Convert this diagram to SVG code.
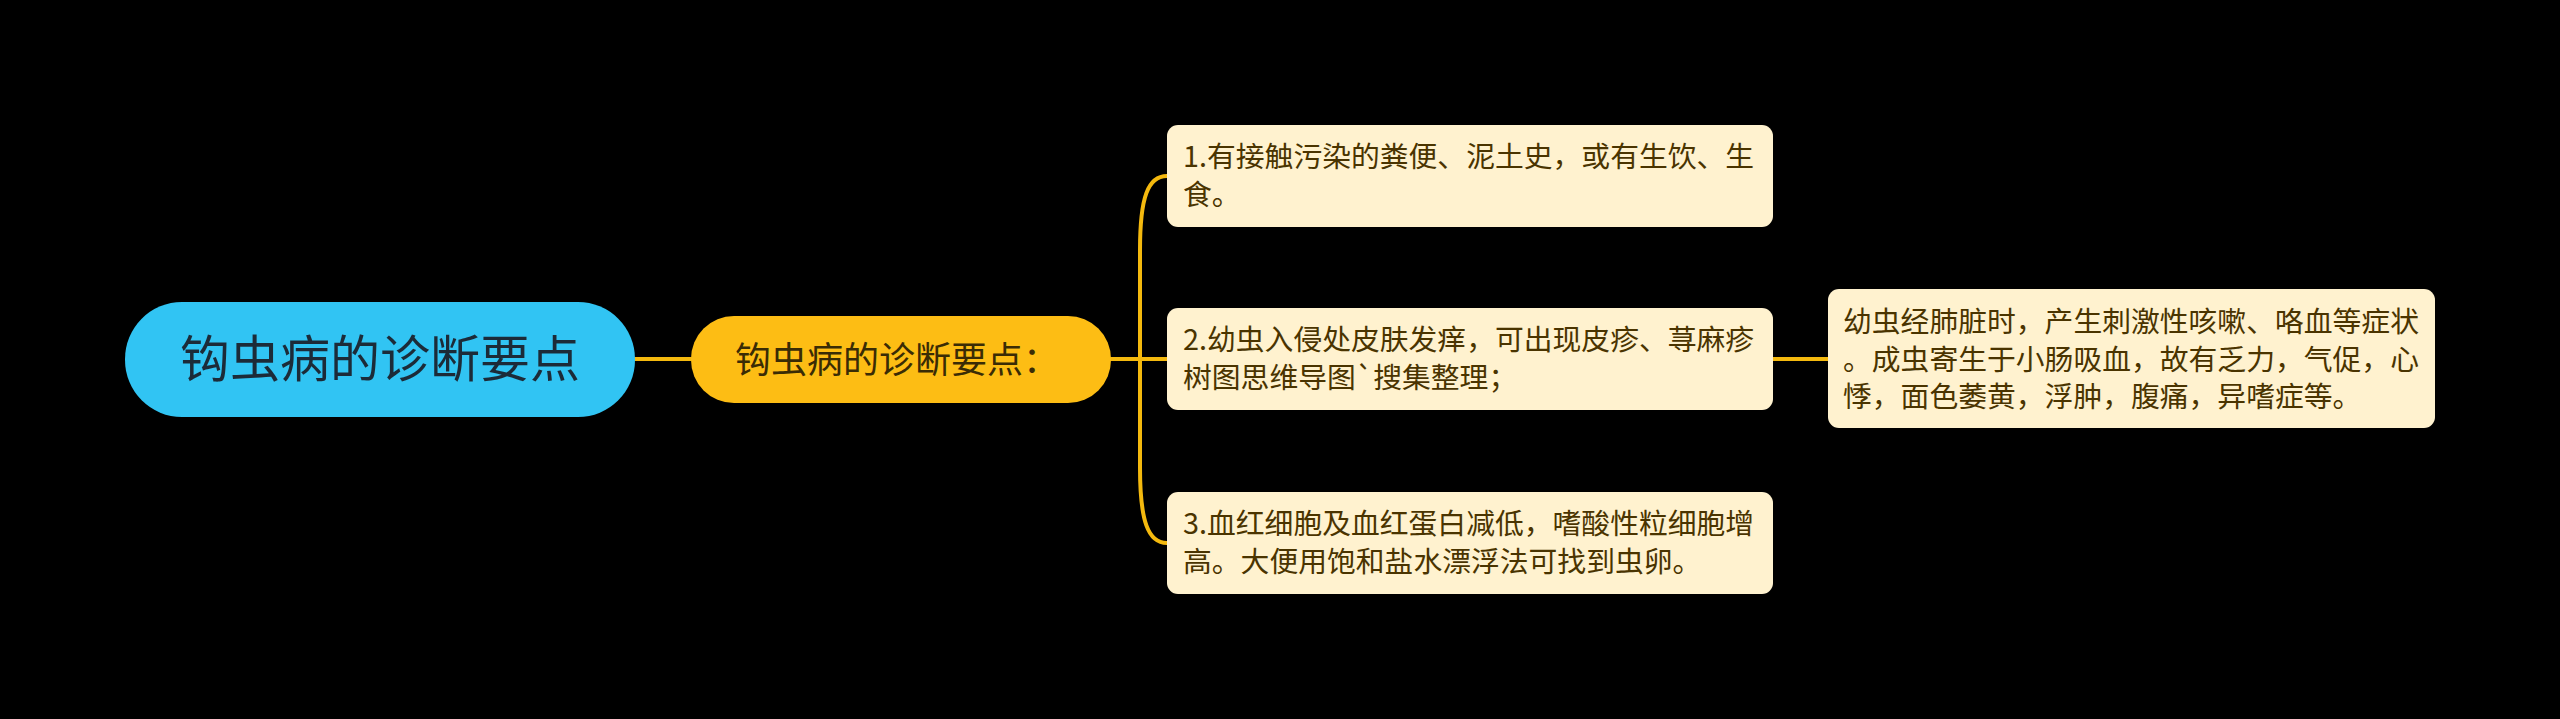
<svg xmlns="http://www.w3.org/2000/svg" width="2560" height="719" viewBox="0 0 2560 719">
  <style>
    .bg { fill: #000000; }
    .link { fill: none; stroke: #f4b90e; stroke-width: 4; stroke-linecap: round; }
    .root-box { fill: #31c4f3; }
    .main-box { fill: #fdbd14; }
    .leaf-box { fill: #fff2cf; }
    .t { font-family: "Noto Sans CJK SC", "Noto Sans", sans-serif; }
    .root-t { font-size: 50px; fill: #1c2b38; }
    .main-t { font-size: 36px; fill: #3a2c05; }
    .leaf-t { font-size: 28.8px; fill: #4a3400; }
  </style>
  <rect class="bg" x="0" y="0" width="2560" height="719"/>

  <g id="connectors">
    <path class="link" d="M635,359 H691"/>
    <path class="link" d="M1111,359 H1167"/>
    <path class="link" d="M1140,359 V250 C1140,197 1148,176 1167,176"/>
    <path class="link" d="M1140,359 V468 C1140,521 1148,543 1167,543"/>
    <path class="link" d="M1773,359 H1828"/>
  </g>

  <g id="root">
    <rect class="root-box" x="125" y="302" width="510" height="115" rx="57" ry="57"/>
    <text class="t root-t" x="380" y="377" text-anchor="middle">钩虫病的诊断要点</text>
  </g>

  <g id="main">
    <rect class="main-box" x="691" y="316" width="420" height="87" rx="43" ry="43"/>
    <text class="t main-t" x="735" y="373">钩虫病的诊断要点：</text>
  </g>

  <g id="leaf1">
    <rect class="leaf-box" x="1167" y="125" width="606" height="102" rx="11" ry="11"/>
    <text class="t leaf-t" x="1183" y="167">1.有接触污染的粪便、泥土史，或有生饮、生</text>
    <text class="t leaf-t" x="1183" y="205">食。</text>
  </g>

  <g id="leaf2">
    <rect class="leaf-box" x="1167" y="308" width="606" height="102" rx="11" ry="11"/>
    <text class="t leaf-t" x="1183" y="350">2.幼虫入侵处皮肤发痒，可出现皮疹、荨麻疹</text>
    <text class="t leaf-t" x="1183" y="388">树图思维导图`搜集整理；</text>
  </g>

  <g id="leaf3">
    <rect class="leaf-box" x="1167" y="492" width="606" height="102" rx="11" ry="11"/>
    <text class="t leaf-t" x="1183" y="534">3.血红细胞及血红蛋白减低，嗜酸性粒细胞增</text>
    <text class="t leaf-t" x="1183" y="572">高。大便用饱和盐水漂浮法可找到虫卵。</text>
  </g>

  <g id="leaf4">
    <rect class="leaf-box" x="1828" y="289" width="607" height="139" rx="11" ry="11"/>
    <text class="t leaf-t" x="1843" y="332">幼虫经肺脏时，产生刺激性咳嗽、咯血等症状</text>
    <text class="t leaf-t" x="1843" y="370">。成虫寄生于小肠吸血，故有乏力，气促，心</text>
    <text class="t leaf-t" x="1843" y="407">悸，面色萎黄，浮肿，腹痛，异嗜症等。</text>
  </g>
</svg>
